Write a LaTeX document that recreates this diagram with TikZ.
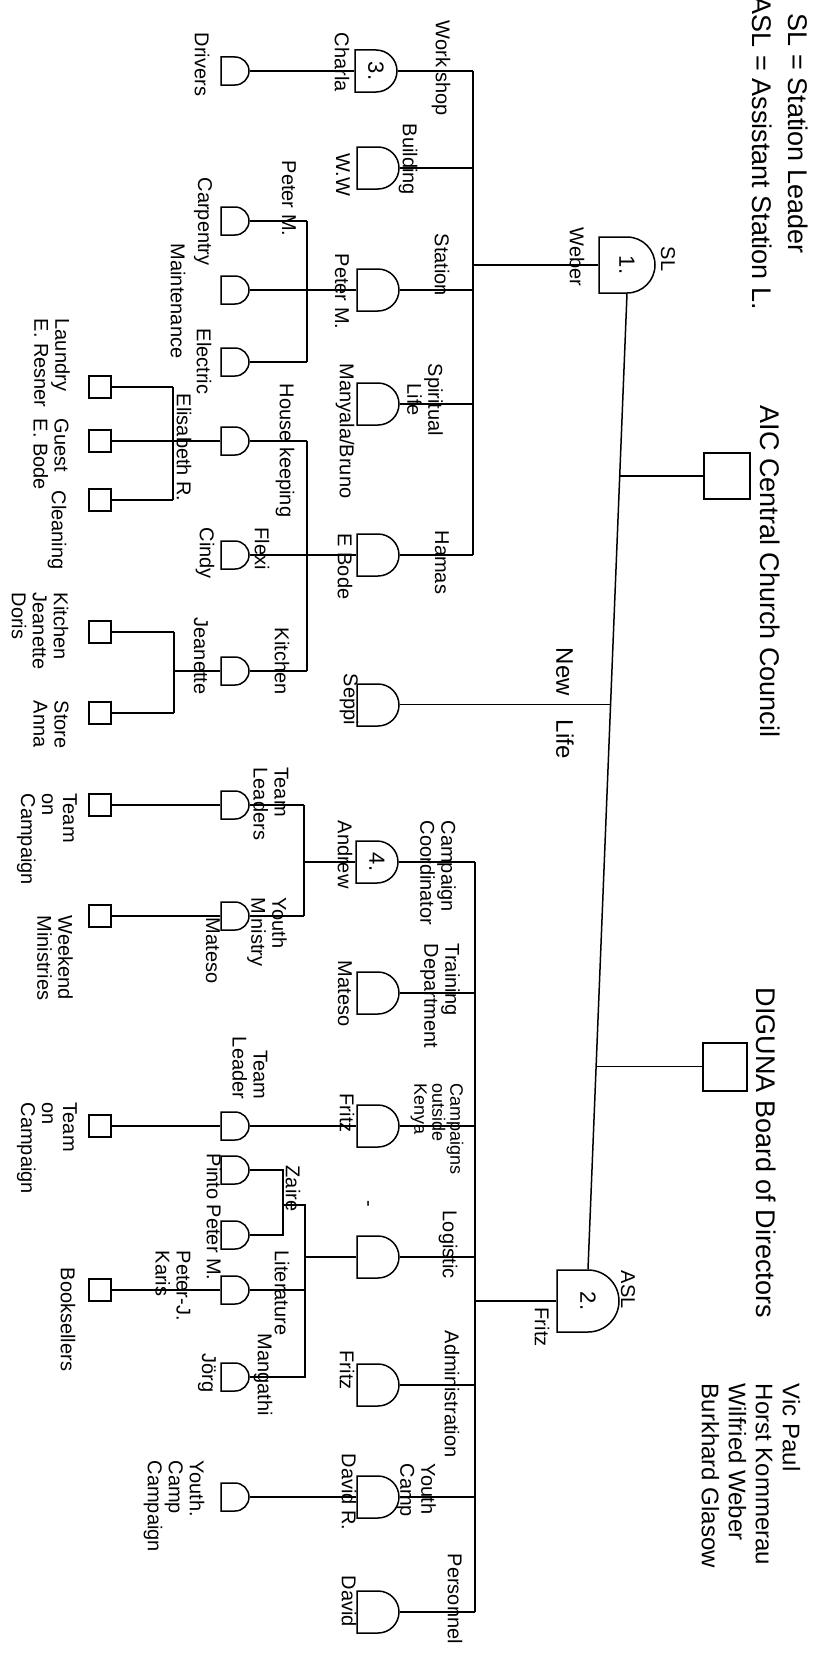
\documentclass[tikz,border=0pt]{standalone}
\usepackage{fontspec}
\setmainfont{Liberation Sans}
\usetikzlibrary{shapes.misc, calc}

\begin{document}
\begin{tikzpicture}[x=1pt, y=-1pt, line width=1.5pt,
	man/.style={draw, rounded rectangle, rounded rectangle west arc=none, inner sep=0pt, minimum width=35pt, minimum height=42pt},
	aid/.style={draw, rounded rectangle, rounded rectangle west arc=none, inner sep=0pt, minimum width=23pt, minimum height=28pt},
	box/.style={draw, rectangle, inner sep=0pt, minimum size=22pt},
	num/.style={rotate=-90, inner sep=0pt, font=\fontsize{22}{22}\selectfont},
	txt/.style={rotate=-90, anchor=west, inner sep=0pt, align=left, font=\fontsize{20}{21}\selectfont},
	big/.style={txt, font=\fontsize{27}{29}\selectfont}]
	\useasboundingbox[fill=white] (0,0) rectangle (826,1662);
	% leaders
	\node[man, minimum width=45pt, minimum height=56pt, label={[num]center:1.}] (sl) at (627,265) {};
	\node[man, minimum width=49pt, minimum height=62pt, label={[num]center:2.}] (asl) at (588,1301) {};
	\node[man, label={[num]center:3.}] (ws) at (376,71) {};
	\node[man, label={[num]center:4.}] (cc) at (377,862) {};
	\foreach \n/\y in {bld/168,stn/290,spl/404,ebd/555,sep/705,trn/993,cok/1126,log/1257,adm/1385,yc/1497,per/1612}{\node[man] (\n) at (378,\y){};}
	\foreach \n/\y in {drv/71,carp/221,mnt/290,elec/362,hk/441,flx/555,kit/671,tl1/805,ym/916,tl2/1126,zr1/1170,zr2/1235,lit/1290,mng/1377,ycc/1497}{\node[aid] (\n) at (235,\y){};}
	\foreach \n/\y in {lau/387,gst/441,cln/500,kbx/632,sto/713,tc1/805,wk/916,tc2/1126,bks/1290}{\node[box] (\n) at (100,\y){};}
	\node[box, minimum size=46pt] (aic) at (727,476) {};
	\node[box, minimum width=44pt, minimum height=48pt] (dig) at (725,1067) {};
	% bus points
	\coordinate (slb) at (473,265);
	\coordinate (stb) at (307,290);
	\coordinate (ebb) at (307,555);
	\coordinate (hkb) at (173,441);
	\coordinate (kib) at (174,671);
	\coordinate (asb) at (475,1301);
	\coordinate (anb) at (304,862);
	\coordinate (lgb) at (305,1257);
	\coordinate (zl) at (283,1205);
	% spine
	\draw (sl.south) -- (asl.north);
	\coordinate (j1) at ($(sl.south)!0.187!(asl.north)$);
	\coordinate (j2) at ($(sl.south)!0.421!(asl.north)$);
	\coordinate (j3) at ($(sl.south)!0.792!(asl.north)$);
	\draw (j1) -- (j1 -| aic.west);
	\draw (j2) -- (j2 -| sep.east);
	\draw (j3) -- (j3 -| dig.west);
	% station leader side
	\draw (sl.west) -- (slb);
	\draw (slb |- ws.east) -- (slb |- ebd.east);
	\foreach \n in {ws,bld,stn,spl,ebd}{\draw (\n.east) -- (\n.east -| slb);}
	\draw (ws.west) -- (drv.east);
	\draw (stn.west) -- (mnt.east);
	\draw (stb |- carp.east) -- (stb |- elec.east);
	\foreach \n in {carp,elec}{\draw (\n.east) -- (\n.east -| stb);}
	\draw (ebd.west) -- (flx.east);
	\draw (ebb |- hk.east) -- (ebb |- kit.east);
	\foreach \n in {hk,kit}{\draw (\n.east) -- (\n.east -| ebb);}
	\draw (hk.west) -- (gst.east);
	\draw (hkb |- lau.east) -- (hkb |- cln.east);
	\foreach \n in {lau,cln}{\draw (\n.east) -- (\n.east -| hkb);}
	\draw (kit.west) -- (kib);
	\draw (kib |- kbx.east) -- (kib |- sto.east);
	\foreach \n in {kbx,sto}{\draw (\n.east) -- (\n.east -| kib);}
	% assistant side
	\draw (asl.west) -- (asb);
	\draw (asb |- cc.east) -- (asb |- per.east);
	\foreach \n in {cc,trn,cok,log,adm,yc,per}{\draw (\n.east) -- (\n.east -| asb);}
	\draw (cc.west) -- (anb);
	\draw (anb |- tl1.east) -- (anb |- ym.east);
	\foreach \n in {tl1,ym}{\draw (\n.east) -- (\n.east -| anb);}
	\draw (tl1.west) -- (tc1.east);
	\draw (ym.west) -- (wk.east);
	\draw (cok.west) -- (tl2.east);
	\draw (tl2.west) -- (tc2.east);
	\draw (log.west) -- (lgb);
	\draw (zl) -| (lgb |- mng.east) -- (mng.east);
	\draw (lit.east) -- (lit.east -| lgb);
	\draw (lit.west) -- (bks.east);
	\draw (zr1.east) -| (zl |- zr2.east) -- (zr2.east);
	\draw (yc.west) -- (ycc.east);
	% texts
	\node[big] (t1) at (798,13) {SL = Station Leader};
	\node[big] (t2) at (762,-4) {ASL = Assistant Station L.};
	\node[big] (t3) at (770,405) {AIC Central Church Council};
	\node[big] (t4) at (766,987) {DIGUNA Board of Directors};
	\node[big, font=\fontsize{24}{27}\selectfont] (t5) at (751,1383) {Vic Paul\\Horst Kommerau\\Wilfried Weber\\Burkhard Glasow};
	\node[txt, font=\fontsize{24}{26}\selectfont] (t6) at (565,647) {New\hspace{24pt}Life};
	\node[txt, align=center] (t7) at (425,363) {Spiritual\\Life};
	\node[txt, align=right, anchor=east] (t8) at (250,1100) {Team\\Leader};
	\node[txt, font=\fontsize{18}{18}\selectfont] (t9) at (437,1083) {Campaigns\\outside\\Kenya};
	\foreach \x/\y/\t [count=\k] in {668/246/SL, 577/227/Weber, 441/20/Work shop, 342/32/Charla, 202/32/Drivers,
		408/123/Building, 343/153/W.W, 442/233/Station, 342/253/Peter M., 289/160/Peter M., 203/177/Carpentry,
		178/243/Maintenance, 204/328/Electric, 345/363/{Manyala/Bruno}, 442/530/Hamas, 345/533/E Bode,
		285/383/House keeping, 184/393/Elisabeth R., 52/318/{Laundry\\E. Resner}, 51/418/{Guest\\E. Bode},
		57/490/Cleaning, 262/527/Flexi, 205/527/Cindy, 282/627/Kitchen, 201/617/Jeanette,
		40/592/{Kitchen\\Jeanette\\Doris}, 51/700/{Store\\Anna}, 349/673/Seppi,
		628/1270/ASL, 542/1307/Fritz, 438/820/{Campaign\\Coordinator}, 345/820/Andrew, 271/767/{Team\\Leaders},
		47/793/{Team\\on\\Campaign}, 267/897/{Youth\\Ministry}, 213/917/Mateso, 55/915/{Weekend\\Ministries},
		440/943/{Training\\Department}, 345/960/Mateso, 347/1093/Fritz, 47/1102/{Team\\on\\Campaign},
		448/1210/Logistic, 366/1200/-, 293/1165/Zaire, 214/1153/Pinto Peter M., 282/1250/Literature,
		173/1250/{Peter-J.\\Karis}, 68/1267/Booksellers, 263/1333/Mangathi, 207/1353/Jörg,
		452/1330/Administration, 347/1350/Fritz, 416/1463/{Youth\\Camp}, 349/1453/David R.,
		174/1460/{Youth.\\Camp\\Campaign}, 455/1553/Personnel, 349/1575/David}{\node[txt] (l\k) at (\x,\y){\t};}
\end{tikzpicture}
\end{document}
